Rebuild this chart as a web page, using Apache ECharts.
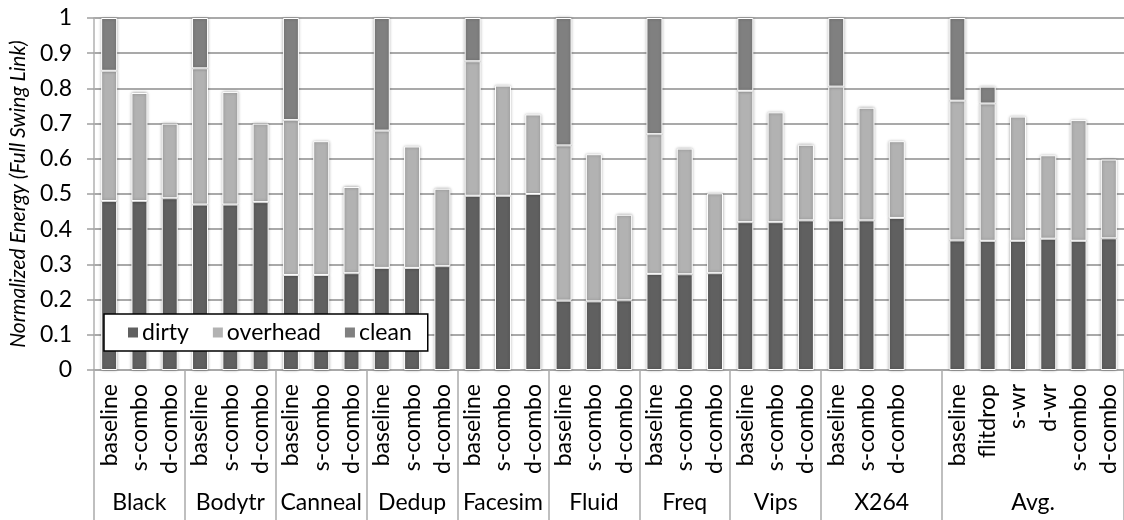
<!DOCTYPE html>
<html>
<head>
<meta charset="utf-8">
<script src="https://cdn.jsdelivr.net/npm/echarts@6/dist/echarts.min.js"></script>
<style>
html,body{margin:0;padding:0;background:#fff;}
#chart{width:1124px;height:520px;}
</style>
</head>
<body>
<div id="chart"></div>
<script>
const groupNames = ['Black','Bodytr','Canneal','Dedup','Facesim','Fluid','Freq','Vips','X264','Avg.'];
const groupSizes = [3,3,3,3,3,3,3,3,4,6];
const barLabels = [
  'baseline','s-combo','d-combo',
  'baseline','s-combo','d-combo',
  'baseline','s-combo','d-combo',
  'baseline','s-combo','d-combo',
  'baseline','s-combo','d-combo',
  'baseline','s-combo','d-combo',
  'baseline','s-combo','d-combo',
  'baseline','s-combo','d-combo',
  'baseline','s-combo','d-combo','',
  'baseline','flitdrop','s-wr','d-wr','s-combo','d-combo'
];
const dirty = [
  0.480,0.480,0.488,
  0.470,0.470,0.477,
  0.270,0.270,0.275,
  0.290,0.290,0.295,
  0.495,0.495,0.500,
  0.197,0.195,0.198,
  0.273,0.272,0.275,
  0.420,0.420,0.425,
  0.425,0.425,0.432,null,
  0.368,0.367,0.367,0.373,0.367,0.374
];
const overhead = [
  0.370,0.307,0.212,
  0.387,0.320,0.223,
  0.440,0.380,0.245,
  0.390,0.345,0.220,
  0.382,0.313,0.226,
  0.441,0.418,0.243,
  0.397,0.357,0.227,
  0.373,0.312,0.215,
  0.380,0.320,0.218,null,
  0.397,0.390,0.353,0.237,0.343,0.224
];
const clean = [
  0.150,null,null,
  0.143,null,null,
  0.290,null,null,
  0.320,null,null,
  0.123,null,null,
  0.362,null,null,
  0.330,null,null,
  0.207,null,null,
  0.195,null,null,null,
  0.235,0.048,null,null,null,null
];
const yTicks = [0,0.1,0.2,0.3,0.4,0.5,0.6,0.7,0.8,0.9,1];

const groupBounds = [0];
groupSizes.forEach(s => groupBounds.push(groupBounds[groupBounds.length-1] + s));
const groupCenters = groupSizes.map((s,i) => groupBounds[i] + s/2);
const nSlots = barLabels.length;

const FONT = 'Lato';
const toData = arr => arr.map(v => v == null ? '-' : v);
const barStyle = c => ({
  color: c, borderColor: '#ffffff', borderWidth: 1,
  shadowBlur: 3, shadowColor: 'rgba(0,0,0,0.35)'
});

const chart = echarts.init(document.getElementById('chart'));
chart.setOption({
  animation: false,
  backgroundColor: '#ffffff',
  textStyle: { fontFamily: FONT },
  grid: { left: 94, top: 18, width: 1038, height: 352, containLabel: false },
  legend: {
    left: 104, top: 314,
    backgroundColor: '#ffffff',
    borderColor: '#000000', borderWidth: 1.5, borderRadius: 0,
    padding: [7, 16, 7, 22],
    itemWidth: 12, itemHeight: 12, itemGap: 22,
    icon: 'rect',
    textStyle: { fontFamily: FONT, fontSize: 23, color: '#000', padding: [0,0,0,-2] },
    data: ['dirty','overhead','clean']
  },
  xAxis: [
    {
      type: 'category', data: barLabels, gridIndex: 0,
      axisLine: { show: true, lineStyle: { color: '#a8a8a8', width: 1.5 } },
      axisTick: { show: false },
      axisLabel: { interval: 0, rotate: 90, margin: 14, fontFamily: FONT, fontSize: 23, color: '#000' },
      splitLine: { show: false }
    },
    {
      type: 'value', gridIndex: 0, position: 'bottom', min: 0, max: nSlots,
      axisLine: { show: false },
      axisTick: { show: true, customValues: groupBounds, length: 152, lineStyle: { color: '#aaaaaa', width: 1.5 } },
      axisLabel: {
        show: true, customValues: groupCenters, margin: 121,
        fontFamily: FONT, fontSize: 23, color: '#000',
        formatter: v => { const i = groupCenters.indexOf(v); return i >= 0 ? groupNames[i] : ''; }
      },
      splitLine: { show: false }
    }
  ],
  yAxis: {
    type: 'value', min: yTicks[0], max: yTicks[yTicks.length-1], interval: 0.1,
    name: 'Normalized Energy (Full Swing Link)',
    nameLocation: 'middle', nameGap: 58,
    nameTextStyle: { fontFamily: FONT, fontStyle: 'italic', fontSize: 21, color: '#000' },
    axisLine: { show: true, lineStyle: { color: '#b0b0b0', width: 1.5 } },
    axisTick: { show: true, length: 7, lineStyle: { color: '#a0a0a0', width: 1.5 } },
    axisLabel: { margin: 22, fontFamily: FONT, fontSize: 23, color: '#000',
      formatter: v => String(Math.round(v*10)/10) },
    splitLine: { show: true, lineStyle: { color: '#8c8c8c', width: 1.5 } }
  },
  series: [
    { name: 'dirty', type: 'bar', stack: 'e', barWidth: 16, data: toData(dirty), itemStyle: barStyle('#606060') },
    { name: 'overhead', type: 'bar', stack: 'e', barWidth: 16, data: toData(overhead), itemStyle: barStyle('#b2b2b2') },
    { name: 'clean', type: 'bar', stack: 'e', barWidth: 16, data: toData(clean), itemStyle: barStyle('#808080') }
  ]
});
</script>
</body>
</html>
